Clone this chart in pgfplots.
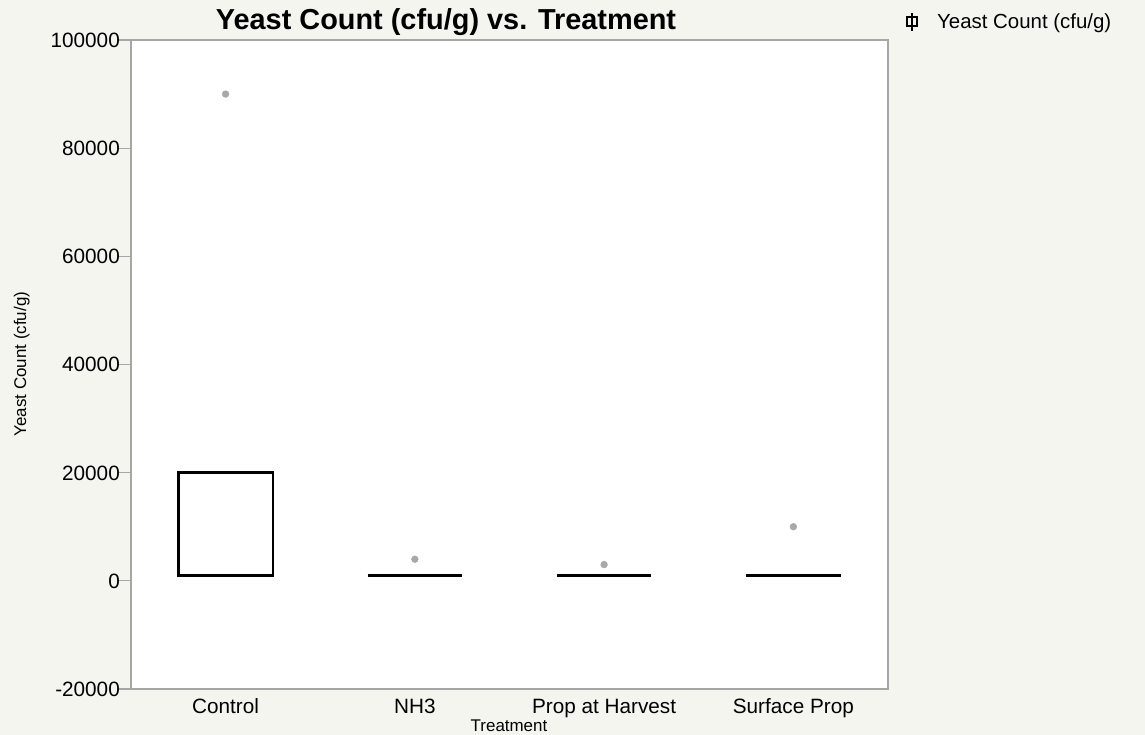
\documentclass[border=0pt]{standalone}
\usepackage{pgfplots}
\pgfplotsset{compat=1.18}
\usepackage{fontspec}
\setmainfont{Liberation Sans}
\definecolor{bg}{HTML}{F5F5F0}
\definecolor{axgray}{HTML}{A6A6A6}
\definecolor{outl}{HTML}{A8A8A8}
% values in thousands of cfu/g
\begin{document}
\begin{tikzpicture}
\fill[bg] (0bp,0bp) rectangle (1145bp,735bp);
\begin{axis}[
  at={(131bp,46bp)}, anchor=south west,
  scale only axis, width=757bp, height=649bp,
  xmin=-0.5, xmax=3.5, ymin=-20, ymax=100,
  axis background/.style={fill=white},
  axis line style={axgray, line width=1.3bp},
  xtick={0,1,2,3},
  xticklabels={Control,NH3,Prop at Harvest,Surface Prop},
  x tick style={draw=none},
  ytick={-20,0,20,40,60,80,100},
  yticklabels={-20000,0,20000,40000,60000,80000,100000},
  y tick style={axgray, line width=1.1bp},
  tick align=outside, major tick length=12bp,
  ytick pos=left, xtick pos=bottom,
  tick label style={font=\fontsize{20.8}{22}\selectfont},
  xticklabel style={anchor=base, inner sep=0pt, yshift=-12bp},
  yticklabel style={anchor=base east, inner sep=0pt, yshift=-7.4bp, xshift=1bp},
]
% Control box: quartiles 1000 and 20000
\addplot[draw=black, line width=2.4bp, line join=miter, fill=white]
  coordinates {(-0.25,1) (0.25,1) (0.25,20) (-0.25,20)} -- cycle;
% NH3, Prop at Harvest, Surface Prop: collapsed boxes at 1000
\addplot[draw=black, line width=2.4bp] coordinates {(0.75,1) (1.25,1)};
\addplot[draw=black, line width=2.4bp] coordinates {(1.75,1) (2.25,1)};
\addplot[draw=black, line width=2.4bp] coordinates {(2.75,1) (3.25,1)};
% outliers
\addplot[only marks, mark=*, mark size=3.4bp, draw=outl, fill=outl]
  coordinates {(0,90) (1,4) (2,3) (3,10)};
\end{axis}
% legend
\draw[black, line width=1.3bp] (907bp,709bp) rectangle (917bp,718bp);
\draw[black, line width=1.3bp] (912bp,704bp) -- (912bp,722bp);
\node[anchor=base west, inner sep=0pt, font=\fontsize{20.5}{22}\selectfont] at (937bp,706bp) {Yeast Count (cfu/g)};
\node[anchor=base, font=\fontsize{29}{31}\selectfont\bfseries, inner sep=0pt] at (446bp,705bp) {Yeast Count (cfu/g) vs. Treatment};
\node[anchor=base, font=\fontsize{17}{19}\selectfont, inner sep=0pt] at (509bp,4bp) {Treatment};
\node[anchor=base, rotate=90, font=\fontsize{17}{19}\selectfont, inner sep=0pt] at (26bp,371bp) {Yeast Count (cfu/g)};
\end{tikzpicture}
\end{document}
